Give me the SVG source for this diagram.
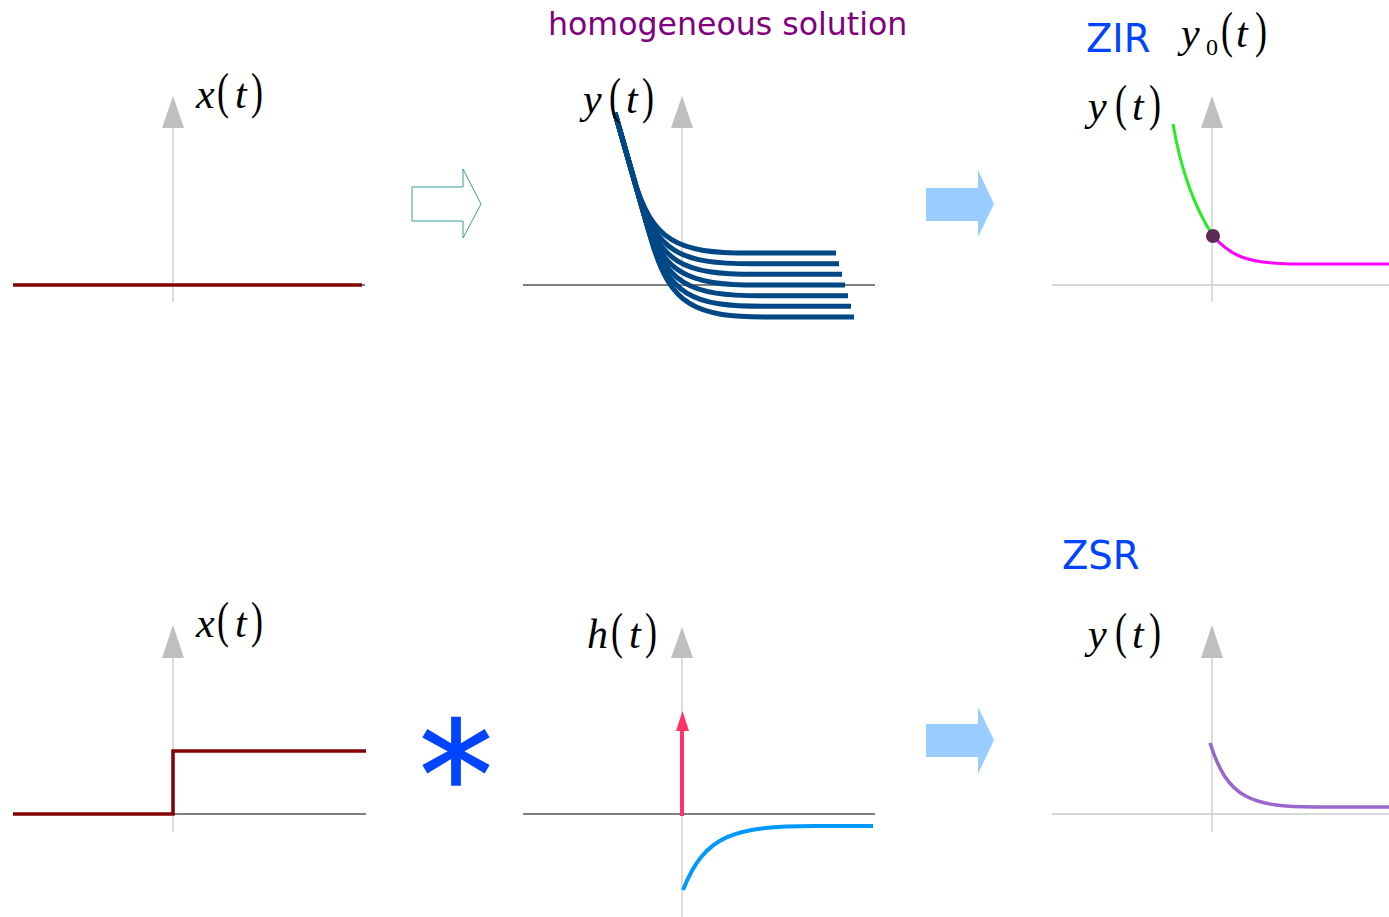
<svg xmlns="http://www.w3.org/2000/svg" width="1389" height="917" viewBox="0 0 1389 917">
<style>
.m{font-family:"Liberation Serif",serif;font-style:italic;font-size:42px;fill:#000}
.pp{font-family:"Liberation Serif",serif;font-size:50px;fill:#000}
.s{font-style:normal;font-size:24px}
.lbl{font-family:"DejaVu Sans",sans-serif;font-size:38.5px;fill:#0044ff}
.vax{stroke:#d0d0d0;stroke-width:1.5;fill:none}
.hax{stroke:#555;stroke-width:1.5;fill:none}
.hax2{stroke:#d6d6d6;stroke-width:2;fill:none}
.ah{fill:#bfbfbf}
.sig{stroke:#850000;stroke-width:3.5;fill:none}
.hom{stroke:#004785;stroke-width:5;fill:none}
.blk{fill:#99ccff}
</style>
<rect width="1389" height="917" fill="#fff"/>

<g id="connectors">
  <polygon points="412,187 463,187 463,169 481,204 463,238 463,221 412,221" fill="#fff" stroke="#3a9e9c" stroke-width="1"/>
  <polygon class="blk" points="926,188 978,188 978,170 994,204 978,237 978,221 926,221"/>
  <polygon class="blk" points="926,724 978,724 978,707 994,740 978,774 978,757 926,757"/>
</g>

<g id="panel-x-top">
  <line class="hax" x1="13" y1="285" x2="365" y2="285"/>
  <line class="vax" x1="173" y1="126" x2="173" y2="302"/>
  <polygon class="ah" points="162,128 184,128 173,96"/>
  <line class="sig" x1="13" y1="285" x2="362" y2="285"/>
  <text class="m" y="108"><tspan x="196">x</tspan><tspan x="235">t</tspan></text>
  <text class="pp" transform="translate(217,108) scale(0.72,1)">(</text>
  <text class="pp" transform="translate(251,108) scale(0.72,1)">)</text>
</g>

<g id="panel-homogeneous">
  <text x="548" y="35" font-family="DejaVu Sans, sans-serif" font-size="31.6" fill="#800080">homogeneous solution</text>
  <line class="hax" x1="523" y1="285" x2="875" y2="285"/>
  <line class="vax" x1="682" y1="126" x2="682" y2="285"/>
  <polygon class="ah" points="671,128 693,128 682,96"/>
  <path class="hom" d="M615,113 L633,176 C652.4,243.3 678,253 749,253 L836,253"/>
  <path class="hom" d="M615,113 L636.1,186.7 C655.5,254 681.1,263.7 752.1,263.7 L839,263.7"/>
  <path class="hom" d="M615,113 L639.1,197.3 C658.5,264.6 684.1,274.3 755.1,274.3 L842,274.3"/>
  <path class="hom" d="M615,113 L642.1,208 C661.5,275.3 687.1,285 758.1,285 L845,285"/>
  <path class="hom" d="M615,113 L645.2,218.7 C664.6,286 690.2,295.7 761.2,295.7 L848,295.7"/>
  <path class="hom" d="M615,113 L648.2,229.3 C667.6,296.6 693.2,306.3 764.2,306.3 L851,306.3"/>
  <path class="hom" d="M615,113 L651.3,240 C670.7,307.3 696.3,317 767.3,317 L854,317"/>
  <text class="m" y="113"><tspan x="583">y</tspan><tspan x="626">t</tspan></text>
  <text class="pp" transform="translate(609,113) scale(0.72,1)">(</text>
  <text class="pp" transform="translate(642,113) scale(0.72,1)">)</text>
</g>

<g id="panel-zir">
  <text class="lbl" x="1086" y="52">ZIR</text>
  <text class="m" y="47"><tspan x="1181">y</tspan><tspan class="s" x="1206" y="55">0</tspan><tspan x="1236" y="47">t</tspan></text>
  <text class="pp" transform="translate(1221,47) scale(0.72,1)">(</text>
  <text class="pp" transform="translate(1255,47) scale(0.72,1)">)</text>
  <text class="m" y="120"><tspan x="1088">y</tspan><tspan x="1132">t</tspan></text>
  <text class="pp" transform="translate(1115,120) scale(0.72,1)">(</text>
  <text class="pp" transform="translate(1149,120) scale(0.72,1)">)</text>
  <line class="hax2" x1="1052" y1="285" x2="1389" y2="285"/>
  <line class="vax" x1="1212" y1="126" x2="1212" y2="302"/>
  <polygon class="ah" points="1201,128 1223,128 1212,96"/>
  <path d="M1173,124 C1180,165 1193,205 1213,236" stroke="#22ee22" stroke-width="3" fill="none"/>
  <path d="M1213,236 C1230,255 1245,263 1290,264 L1389,264" stroke="#ff00ff" stroke-width="3" fill="none"/>
  <circle cx="1213" cy="236" r="7" fill="#5c2a52"/>
</g>

<g id="panel-x-bottom">
  <line class="vax" x1="173" y1="655" x2="173" y2="832"/>
  <polygon class="ah" points="162,658 184,658 173,625"/>
  <line class="hax" x1="173" y1="814" x2="366" y2="814"/>
  <path class="sig" d="M13,814 H173 V751 H366"/>
  <text class="m" y="637"><tspan x="196">x</tspan><tspan x="235">t</tspan></text>
  <text class="pp" transform="translate(217,637) scale(0.72,1)">(</text>
  <text class="pp" transform="translate(251,637) scale(0.72,1)">)</text>
</g>

<g id="convolution">
  <text x="456" y="827" text-anchor="middle" font-family="DejaVu Sans, sans-serif" font-size="148" fill="#0044ff" stroke="#0044ff" stroke-width="1.5">*</text>
</g>

<g id="panel-h">
  <line class="vax" x1="682" y1="655" x2="682" y2="917"/>
  <polygon class="ah" points="671,658 693,658 682,627"/>
  <line class="hax" x1="523" y1="814" x2="875" y2="814"/>
  <line x1="682" y1="816" x2="682" y2="728" stroke="#ff3366" stroke-width="4"/>
  <polygon points="676,731 689,731 682.5,711" fill="#ff3366"/>
  <path d="M683,890 C705,834.5 734.5,826 815,826 L873,826" stroke="#0099ff" stroke-width="4" fill="none"/>
  <text class="m" y="648"><tspan x="587">h</tspan><tspan x="629">t</tspan></text>
  <text class="pp" transform="translate(611,648) scale(0.72,1)">(</text>
  <text class="pp" transform="translate(645,648) scale(0.72,1)">)</text>
</g>

<g id="panel-zsr">
  <text class="lbl" x="1062" y="569">ZSR</text>
  <text class="m" y="648"><tspan x="1088">y</tspan><tspan x="1132">t</tspan></text>
  <text class="pp" transform="translate(1115,648) scale(0.72,1)">(</text>
  <text class="pp" transform="translate(1149,648) scale(0.72,1)">)</text>
  <line class="hax2" x1="1052" y1="814" x2="1389" y2="814"/>
  <line class="vax" x1="1212" y1="655" x2="1212" y2="832"/>
  <polygon class="ah" points="1201,658 1223,658 1212,625"/>
  <path d="M1210,743 C1227.6,798.5 1251,807 1316,807 L1389,807" stroke="#9966cc" stroke-width="3.5" fill="none"/>
</g>
</svg>
